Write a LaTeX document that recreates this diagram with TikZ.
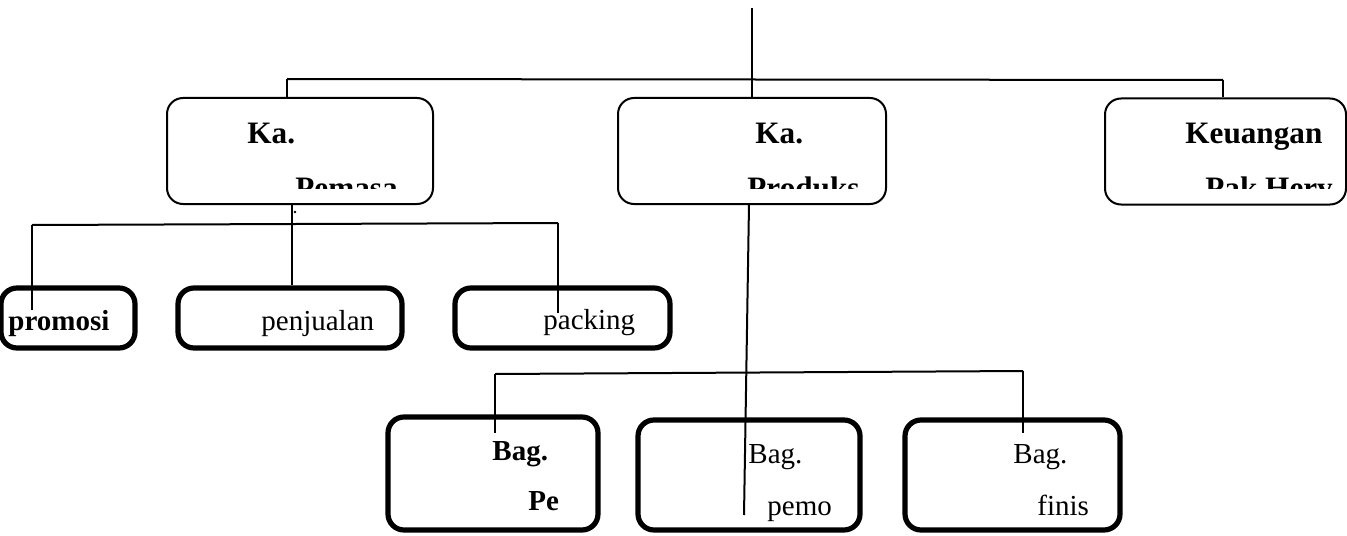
\documentclass[tikz,border=0pt]{standalone}
\usepackage{fontspec}
\setmainfont{Liberation Serif}
\usetikzlibrary{positioning}

\begin{document}
\begin{tikzpicture}[x=0.5pt,y=-0.5pt,
    kepala/.style={draw, line width=1pt, rounded corners=8pt, minimum height=53pt, inner sep=0pt},
    bagian/.style={draw, line width=2.6pt, rounded corners=8pt, inner sep=0pt},
    teks/.style={anchor=base west, inner sep=0pt, font=\fontsize{14.5}{17}\selectfont},
    tebal/.style={teks, font=\fontsize{14.5}{17}\selectfont\bfseries},
    judul/.style={teks, font=\fontsize{15.6}{18}\selectfont\bfseries},
    garis/.style={line width=1pt}]
    \useasboundingbox (0,0) rectangle (1347,535);

    \node[kepala, minimum width=133pt] (pemasaran) at (300,151) {};
    \node[kepala, minimum width=134pt] (produksi) at (752,151) {};
    \node[kepala, minimum width=120.5pt] (keuangan) at (1225.5,151.5) {};

    \node[bagian, minimum width=67pt, minimum height=30pt] (promosi) at (68,318) {};
    \node[bagian, minimum width=112pt, minimum height=30pt] (penjualan) at (290,318) {};
    \node[bagian, minimum width=107.5pt, minimum height=30pt] (packing) at (562.5,318) {};

    \node[bagian, minimum width=105pt, minimum height=56.5pt] (bagpe) at (493,473.5) {};
    \node[bagian, minimum width=111pt, minimum height=55pt] (bagpemo) at (749,475) {};
    \node[bagian, minimum width=107.5pt, minimum height=55pt] (bagfinis) at (1012.5,475) {};

    \node[judul] (ka1) at (247,143) {Ka.};
    \node[judul] (ka2) at (755,143) {Ka.};
    \node[judul] (keu) at (1185,143) {Keuangan};
    \begin{scope}
        \clip (160,100) rectangle (1347,188);
        \node[judul] (pemasa) at (295,198) {Pemasa};
        \node[judul] (produks) at (747,198) {Produks};
        \node[judul] (pakhery) at (1205,198) {Pak Hery};
    \end{scope}

    \node[tebal] (tpromosi) at (8,330) {promosi};
    \node[teks] (tpenjualan) at (261,330) {penjualan};
    \node[teks] (tpacking) at (543,329) {packing};

    \node[tebal] (bag1) at (492,460) {Bag.};
    \node[tebal] (pe) at (528,510) {Pe};
    \node[teks] (bag2) at (748,463) {Bag.};
    \node[teks] (pemo) at (767,515) {pemo};
    \node[teks] (bag3) at (1013,463) {Bag.};
    \node[teks] (finis) at (1037,515) {finis};

    \coordinate (atas) at (752,8);
    \coordinate (kiri) at (287,79);
    \coordinate (kanan) at (1223,80);
    \draw[garis] (atas) -- (produksi.north);
    \draw[garis] (kiri) -- (kanan);
    \draw[garis] (kiri) -- (kiri |- pemasaran.north);
    \draw[garis] (kanan) -- (kanan |- keuangan.north);

    \coordinate (pm) at (292,204);
    \coordinate (pmkiri) at (32,225);
    \coordinate (pmkanan) at (558,223);
    \coordinate (kepromosi) at (32,310);
    \coordinate (kepacking) at (558,313);
    \draw[garis] (pm) -- (pm |- penjualan.north);
    \fill (295,212) circle (0.7pt);
    \draw[garis] (pmkiri) -- (pmkanan);
    \draw[garis] (pmkiri) -- (kepromosi);
    \draw[garis] (pmkanan) -- (kepacking);

    \coordinate (pr) at (749,204);
    \coordinate (prbawah) at (744,515);
    \coordinate (prkiri) at (495,374);
    \coordinate (prkanan) at (1023,371);
    \coordinate (kebagpe) at (495,433);
    \coordinate (kebagfinis) at (1023,433);
    \draw[garis] (pr) -- (prbawah);
    \draw[garis] (prkiri) -- (prkanan);
    \draw[garis] (prkiri) -- (kebagpe);
    \draw[garis] (prkanan) -- (kebagfinis);
\end{tikzpicture}
\end{document}
